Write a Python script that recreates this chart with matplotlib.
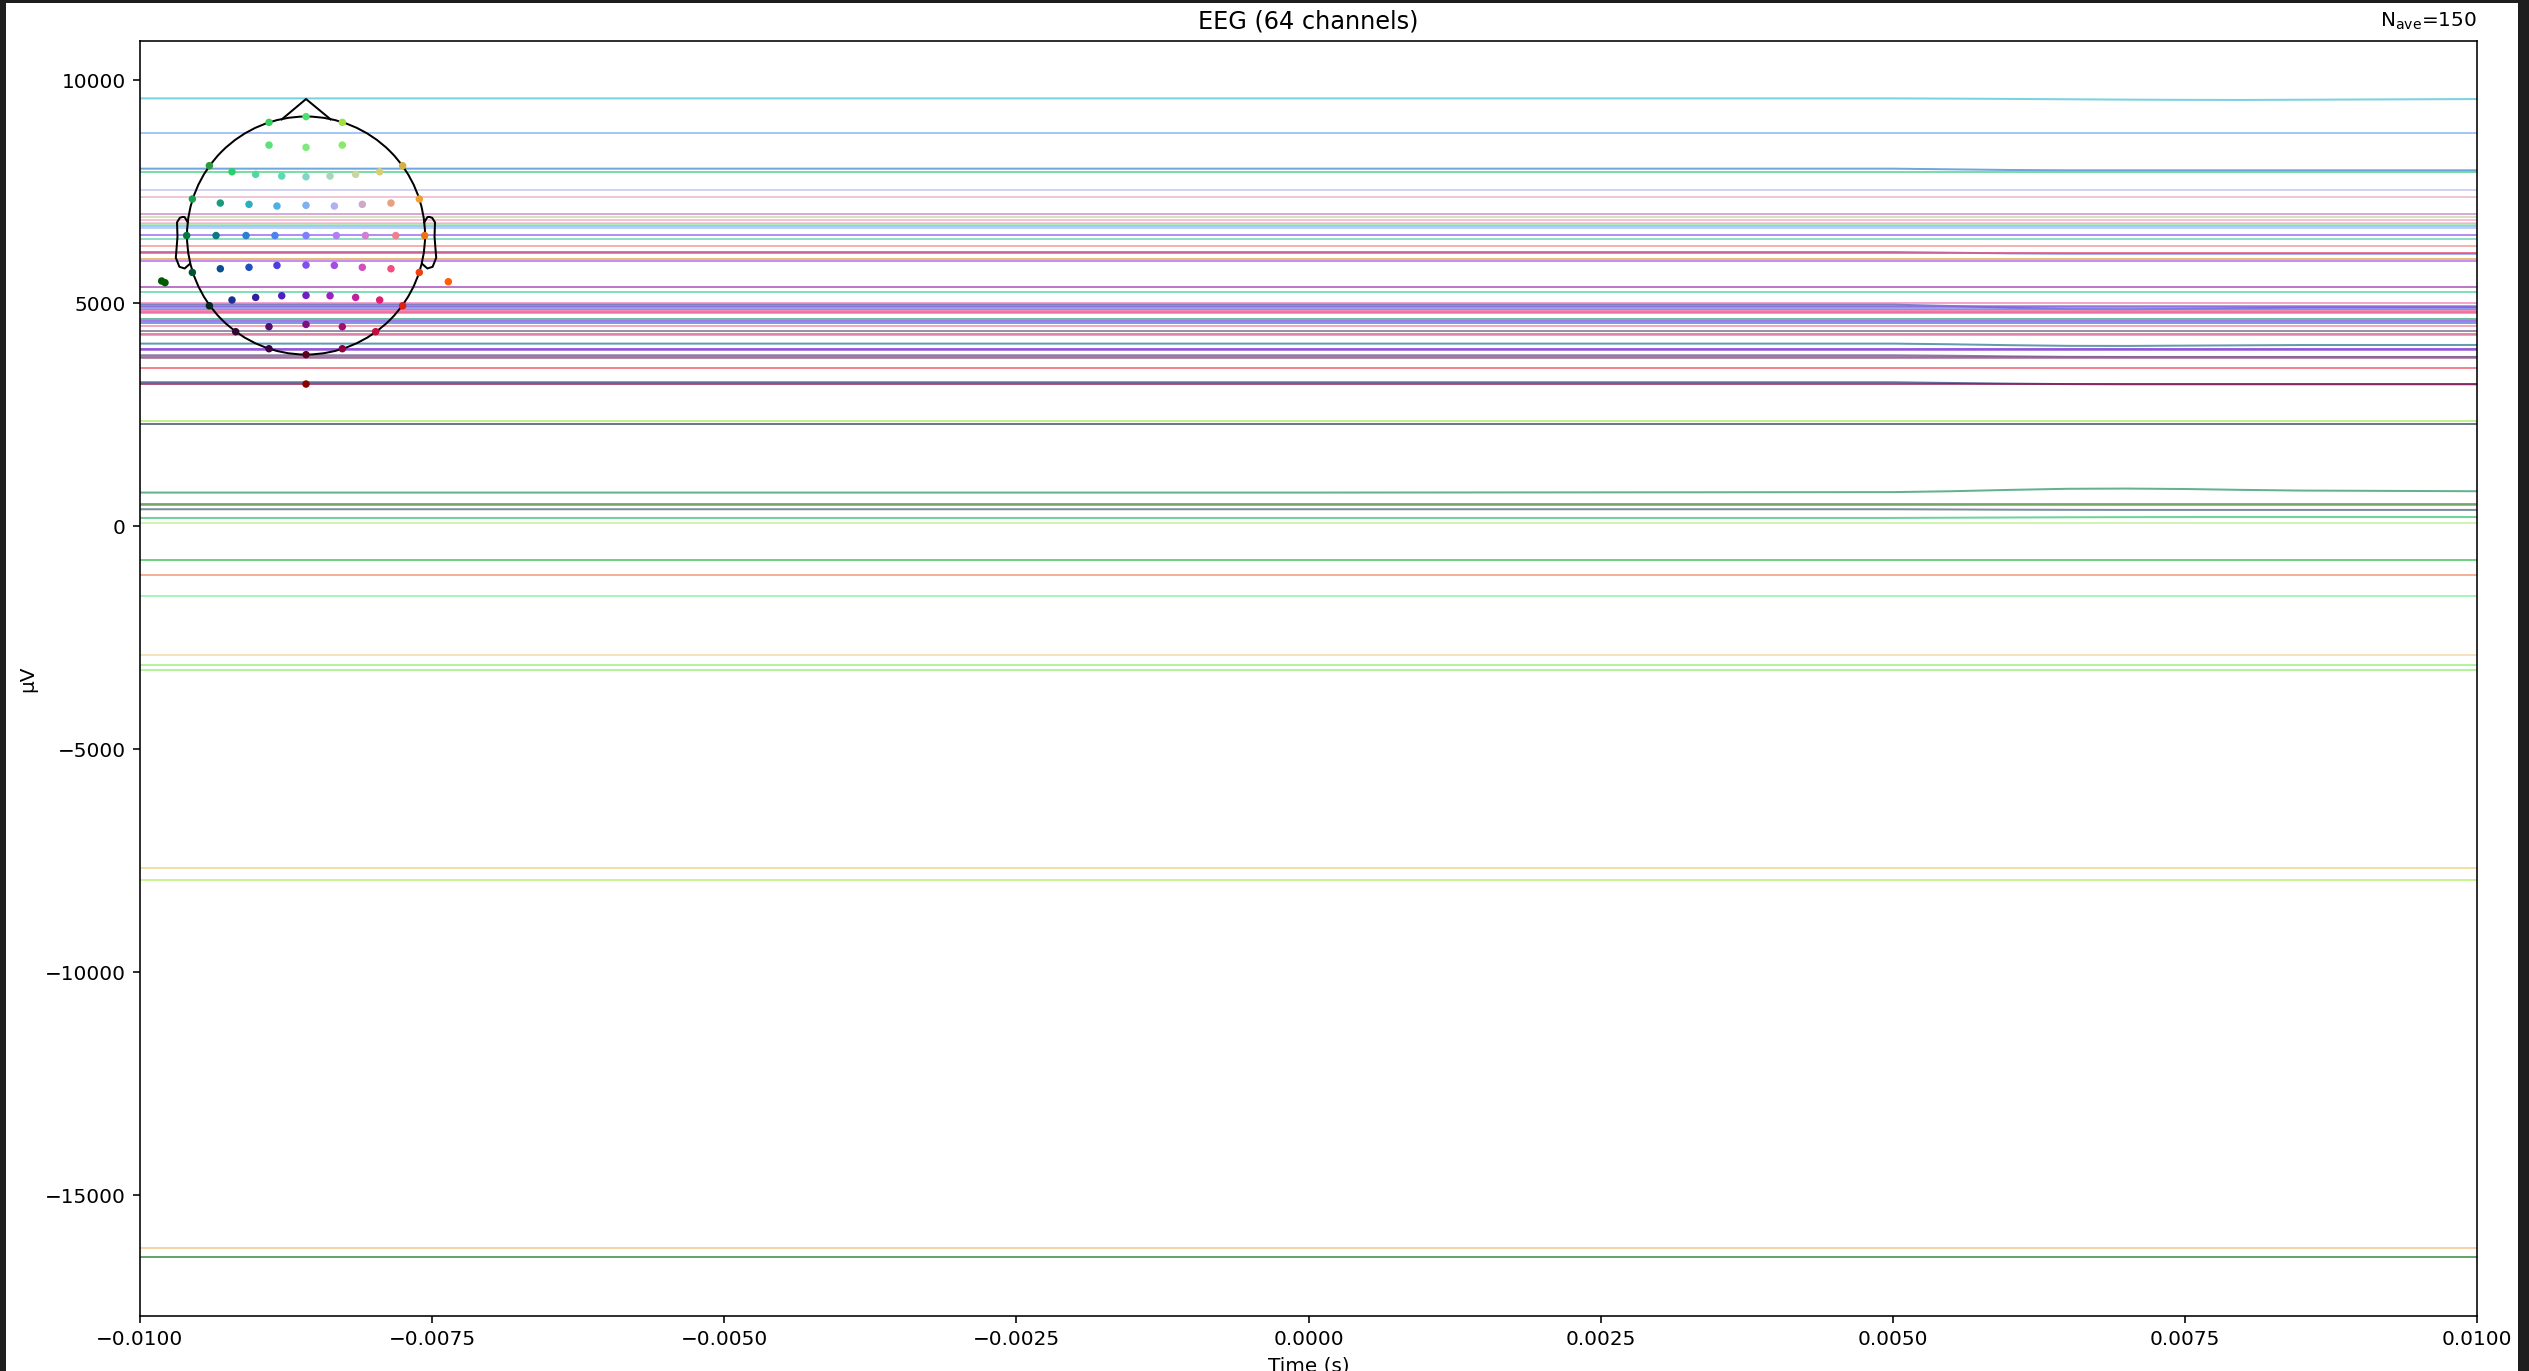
import matplotlib
matplotlib.use("Agg")
import matplotlib.pyplot as plt
from matplotlib.patches import Circle, Rectangle
import numpy as np

# time axis (s) and per-channel offsets (uV)
times = [-0.0100, -0.0050, 0.0000, 0.0050, 0.0055, 0.0060, 0.0065, 0.0070, 0.0075, 0.0080, 0.0085, 0.0100]

offsets = [9596, 8826, 8020, 7952, 7533, 7383, 7010, 6935, 6861, 6800, 6786, 6733,
           6697, 6540, 6435, 6278, 6150, 6128, 6002, 5957, 5366, 5253, 5015, 4970,
           4940, 4917, 4880, 4858, 4805, 4780, 4656, 4603, 4558, 4484, 4379, 4320,
           4282, 4096, 3975, 3950, 3834, 3800, 3782, 3542, 3228, 3190, 2361, 2294,
           755, 508, 478, 381, 186, 74, -762, -1091, -1569, -2892, -3110, -3228,
           -7675, -7930, -16190, -16390]

line_colors = ['#40c0d0', '#80b0f0', '#3080d0', '#40d080', '#c0c0f0', '#e8b0c8', '#d080d0', '#c8d6a0',
               '#f0a8c0', '#f0c0d0', '#90e0a0', '#80b0f0', '#a0c0f0', '#9060f0', '#60d0b0', '#f09090',
               '#5060e0', '#f05070', '#e0a040', '#b060f0', '#a040b0', '#50d0a0', '#f080c0', '#4050b0',
               '#c060c0', '#8060e0', '#7080f0', '#f06090', '#e04080', '#f070a0', '#30a080', '#8040e0',
               '#5070e0', '#f080a0', '#706080', '#c06090', '#e080a0', '#207090', '#7020d0', '#9050d0',
               '#604080', '#806090', '#a06090', '#f05060', '#203070', '#901050', '#a0f060', '#304050',
               '#209060', '#509040', '#70a060', '#406070', '#30c070', '#c0f090', '#30c050', '#f09070',
               '#80f0a0', '#f0d8a0', '#90f070', '#90f070', '#f0d080', '#b0f060', '#f0c080', '#208030']

# small deflections after ~5 ms (uV), keyed by channel index
deflections = {
    0:  [0, 0, 0, 0, -5, -12, -20, -28, -33, -35, -30, -15],
    2:  [0, 0, 0, 0, -15, -30, -37, -37, -37, -37, -37, -37],
    16: [0, 0, 0, 0, -15, -30, -37, -37, -37, -37, -37, -37],
    23: [0, 0, 0, 0, -30, -70, -100, -105, -95, -80, -65, -60],
    37: [0, 0, 0, 0, -15, -35, -50, -52, -45, -38, -32, -30],
    40: [0, 0, 0, 0, -10, -25, -35, -37, -37, -37, -37, -37],
    44: [0, 0, 0, 0, -15, -30, -40, -45, -45, -45, -45, -45],
    48: [0, 0, 0, 10, 30, 60, 85, 90, 80, 60, 45, 30],
    51: [0, 0, 0, 0, -5, -10, -13, -15, -15, -15, -15, -15],
    52: [0, 0, 0, 0, 5, 10, 15, 18, 20, 20, 20, 20],
}

# sensor layout (head radius = 1) and colours
sens_x = [-0.311, 0.0, 0.305,
          -0.311, 0.0, 0.305,
          -0.812, -0.622, -0.423, -0.204, 0.0, 0.202, 0.417, 0.619, 0.812,
          -0.955, -0.720, -0.479, -0.244, 0.0, 0.238, 0.473, 0.714, 0.952,
          -1.003, -0.756, -0.504, -0.261, 0.0, 0.255, 0.499, 0.754, 0.997,
          -0.955, -0.720, -0.479, -0.244, 0.0, 0.238, 0.473, 0.714, 0.952,
          -0.812, -0.622, -0.423, -0.204, 0.0, 0.202, 0.417, 0.619, 0.812,
          -0.591, -0.311, 0.0, 0.305, 0.585,
          -0.311, 0.0, 0.305,
          0.0,
          -1.213, -1.185, 1.196]
sens_y = [0.951, 0.999, 0.951,
          0.760, 0.741, 0.760,
          0.587, 0.536, 0.514, 0.500, 0.494, 0.500, 0.514, 0.536, 0.587,
          0.307, 0.273, 0.262, 0.248, 0.254, 0.248, 0.262, 0.273, 0.307,
          0.0, 0.0, 0.0, 0.0, 0.0, 0.0, 0.0, 0.0, 0.0,
          -0.310, -0.279, -0.267, -0.251, -0.248, -0.251, -0.267, -0.279, -0.310,
          -0.590, -0.542, -0.520, -0.506, -0.503, -0.506, -0.520, -0.542, -0.590,
          -0.808, -0.766, -0.747, -0.766, -0.808,
          -0.951, -1.001, -0.951,
          -1.248,
          -0.382, -0.396, -0.388]
sens_colors = ['#3ad060', '#50e070', '#a0e040',
               '#5de07a', '#7fe87f', '#8ae86a',
               '#2e9a3a', '#2bcf6a', '#4fd99a', '#5fd9b5', '#7fd6c6', '#a8d6b8', '#c8d6a0', '#d6cf7a', '#d6b040',
               '#1aa050', '#1a9a80', '#2ab0c0', '#4fb0e8', '#7fb0f0', '#b0b0f0', '#d0a8c8', '#e8a080', '#f0a030',
               '#007a40', '#0a7a80', '#2a80d0', '#4f80f0', '#7f80ff', '#b080f0', '#d080d0', '#f08090', '#f07010',
               '#005530', '#0a5090', '#2050c0', '#4a40e0', '#7f50f0', '#a050e0', '#d050c0', '#f05080', '#f04010',
               '#002a20', '#203090', '#3020a0', '#5020c0', '#7020c0', '#a020c0', '#c020a0', '#e02070', '#e02010',
               '#300830', '#501070', '#801080', '#a01070', '#c01040',
               '#400040', '#600020', '#900040',
               '#8b0000',
               '#005a00', '#006000', '#ff6000']

W, H = 2529, 1371
fig = plt.figure(figsize=(W / 144, H / 144), dpi=144)
ax = fig.add_axes([140 / W, 1 - 1316 / H, (2477 - 140) / W, (1316 - 41) / H])

for i, (off, col) in enumerate(zip(offsets, line_colors)):
    dev = deflections.get(i, [0] * len(times))
    ax.plot(times, np.array(dev) + off, color=col, lw=1.0, alpha=0.7)

ax.set_xlim(-0.01, 0.01)
ax.set_ylim(-17713, 10883)
ax.set_title('EEG (64 channels)')
ax.set_xlabel('Time (s)')
ax.set_ylabel('µV')
ax.annotate(r'N$_{\mathrm{ave}}$=150', xy=(1, 1.007), xycoords='axes fraction',
            ha='right', va='bottom', fontsize=10)

# sensor inset
ins = fig.add_axes([140 / W, 1 - 400 / H, 330 / W, 315 / H])
ins.set_xlim(-1.395, 1.378)
ins.set_ylim(-1.382, 1.265)
ins.axis('off')
ins.patch.set_alpha(0)
ins.add_patch(Circle((0, 0), 1.0, fill=False, ec='k', lw=1.0))
ins.plot([-0.204, 0.0, 0.207], [0.976, 1.147, 0.976], color='k', lw=1.0)
ear_x = np.array([.497, .510, .518, .5299, .5419, .54, .547, .532, .510, .489]) * 2
ear_y = np.array([.0555, .0775, .0783, .0746, .0555, -.0055, -.0932, -.1313, -.1384, -.1199]) * 2
ins.plot(ear_x, ear_y, color='k', lw=1.0)
ins.plot(-ear_x, ear_y, color='k', lw=1.0)
ins.scatter(sens_x, sens_y, s=14, c=sens_colors, zorder=3, linewidths=0)

# dark screen frame around the figure
fig.patches.append(Rectangle((0, 0), 5 / W, 1, transform=fig.transFigure, color='#1e1e1e', zorder=10))
fig.patches.append(Rectangle((2519 / W, 0), 10 / W, 1, transform=fig.transFigure, color='#1e1e1e', zorder=10))
fig.patches.append(Rectangle((0, 1 - 2 / H), 1, 2 / H, transform=fig.transFigure, color='#1e1e1e', zorder=10))

fig.savefig('out.png', dpi=144)
